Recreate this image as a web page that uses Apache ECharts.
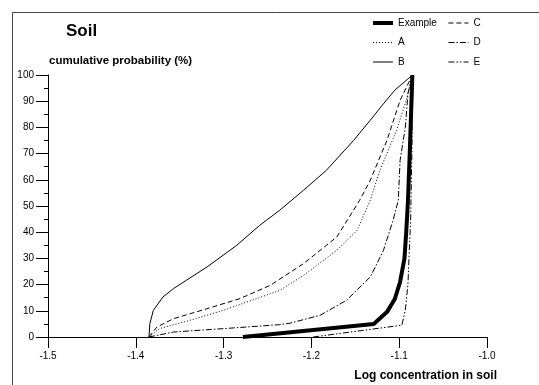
<!DOCTYPE html>
<html>
<head>
<meta charset="utf-8">
<style>
  html, body { margin: 0; padding: 0; background: #fff; }
  #chart { width: 539px; height: 385px; }
</style>
<script src="https://cdn.jsdelivr.net/npm/echarts@6/dist/echarts.min.js"></script>
</head>
<body>
<div id="chart"></div>
<script>
// Cumulative probability curves of log soil concentration
var xTicks = [-1.5, -1.4, -1.3, -1.2, -1.1, -1.0];
var yTicks = [0, 10, 20, 30, 40, 50, 60, 70, 80, 90, 100];

var exampleX = [-1.278, -1.129, -1.114, -1.105, -1.099, -1.094, -1.092, -1.090, -1.088, -1.085];
var exampleY = [0, 5, 9.5, 14.5, 21, 30, 40, 52, 70, 100];

var aX = [-1.385, -1.373, -1.338, -1.300, -1.262, -1.236, -1.209, -1.171, -1.148, -1.133, -1.122, -1.103, -1.092, -1.085];
var aY = [0, 3.2, 6.4, 10.2, 14.7, 17.8, 23.5, 33.1, 40.7, 52.2, 63.6, 78.9, 90.3, 100];

var bX = [-1.385, -1.384, -1.380, -1.369, -1.357, -1.319, -1.285, -1.259, -1.236, -1.209, -1.183, -1.152, -1.133, -1.118, -1.105, -1.085];
var bY = [0, 5.1, 10.2, 15.3, 18.5, 26.7, 35, 42.6, 48.4, 56, 63.6, 75, 82.7, 89, 94.2, 100];

var cX = [-1.385, -1.376, -1.357, -1.319, -1.281, -1.247, -1.209, -1.171, -1.145, -1.133, -1.114, -1.099, -1.085];
var cY = [0, 3.8, 7, 10.8, 14.7, 19.7, 28, 38.2, 52.2, 59.8, 75, 90.3, 100];

var dX = [-1.385, -1.357, -1.300, -1.236, -1.224, -1.190, -1.160, -1.133, -1.118, -1.107, -1.101, -1.099, -1.093, -1.090, -1.085];
var dY = [0, 1.9, 3.2, 4.7, 5.3, 8.3, 14, 22.9, 33, 44.5, 52.2, 67.4, 80, 93, 100];

var eX = [-1.198, -1.097, -1.093, -1.090, -1.0885, -1.087, -1.0855, -1.085];
var eY = [0, 4.5, 10.2, 20.4, 33, 44.5, 71, 100];

function pairs(xs, ys) {
  return xs.map(function (x, i) { return [x, ys[i]]; });
}

var FONT = '"Liberation Sans", Arial, sans-serif';

// line width and dash pattern per curve
var styles = {
  Example: { width: 4, type: 'solid' },
  A: { width: 1, type: [1, 2] },
  B: { width: 1, type: 'solid' },
  C: { width: 1, type: [5, 3] },
  D: { width: 1, type: [6, 2, 1.5, 2] },
  E: { width: 1, type: [6, 2, 1.5, 2, 1.5, 2] }
};

function curve(name, xs, ys) {
  var s = styles[name];
  return {
    name: name,
    type: 'line',
    data: pairs(xs, ys),
    symbol: 'none',
    smooth: false,
    animation: false,
    lineStyle: { color: '#000', width: s.width, type: s.type },
    itemStyle: { color: '#000' }
  };
}

function legendItem(name) {
  var s = styles[name];
  return {
    name: name,
    itemStyle: { opacity: 0, borderWidth: 0 },
    lineStyle: { color: '#000', width: s.width, type: s.type, opacity: 1 }
  };
}

var chart = echarts.init(document.getElementById('chart'), null, { renderer: 'canvas' });

chart.setOption({
  backgroundColor: '#fff',
  animation: false,
  title: [
    {
      text: 'Soil',
      left: 66, top: 23, padding: 0,
      textStyle: { fontFamily: FONT, fontSize: 17, fontWeight: 'bold', color: '#000' }
    }
  ],
  legend: {
    orient: 'vertical',
    left: 371, top: 18, padding: 0,
    height: 64,
    itemWidth: 20,
    itemHeight: 12,
    itemGap: 9.5,
    data: ['Example', 'A', 'B', 'C', 'D', 'E'].map(legendItem),
    itemStyle: { opacity: 0, borderWidth: 0 },
    textStyle: { fontFamily: FONT, fontSize: 10, color: '#000' }
  },
  grid: { left: 48, right: 52, top: 75, bottom: 48, containLabel: false },
  xAxis: {
    type: 'value',
    min: xTicks[0], max: xTicks[xTicks.length - 1], interval: 0.1,
    axisLine: { show: true, onZero: false, lineStyle: { color: '#000', width: 1 } },
    axisTick: { show: true, inside: false, length: 11, lineStyle: { color: '#000' } },
    splitLine: { show: false },
    axisLabel: {
      margin: 14, color: '#000', fontFamily: FONT, fontSize: 10,
      formatter: function (v) { return v.toFixed(1); }
    }
  },
  yAxis: {
    type: 'value',
    min: yTicks[0], max: yTicks[yTicks.length - 1], interval: 10,
    axisLine: { show: true, onZero: false, lineStyle: { color: '#000', width: 1 } },
    axisTick: { show: true, inside: false, length: 12, lineStyle: { color: '#000' } },
    minorTick: { show: true, splitNumber: 2, length: 4, lineStyle: { color: '#000' } },
    splitLine: { show: false },
    minorSplitLine: { show: false },
    axisLabel: { margin: 14, color: '#000', fontFamily: FONT, fontSize: 10 }
  },
  graphic: [
    {
      type: 'rect', silent: true, z: -1,
      shape: { x: 12.5, y: 12.5, width: 700, height: 700 },
      style: { fill: 'none', stroke: '#444', lineWidth: 1 }
    },
    {
      type: 'text', left: 49, top: 55,
      style: { text: 'cumulative probability (%)', font: 'bold 11.5px ' + FONT, fill: '#000' }
    },
    {
      type: 'text', right: 42, top: 370,
      style: { text: 'Log concentration in soil', font: 'bold 12px ' + FONT, fill: '#000' }
    }
  ],
  series: [
    curve('Example', exampleX, exampleY),
    curve('A', aX, aY),
    curve('B', bX, bY),
    curve('C', cX, cY),
    curve('D', dX, dY),
    curve('E', eX, eY)
  ]
});
</script>
</body>
</html>
